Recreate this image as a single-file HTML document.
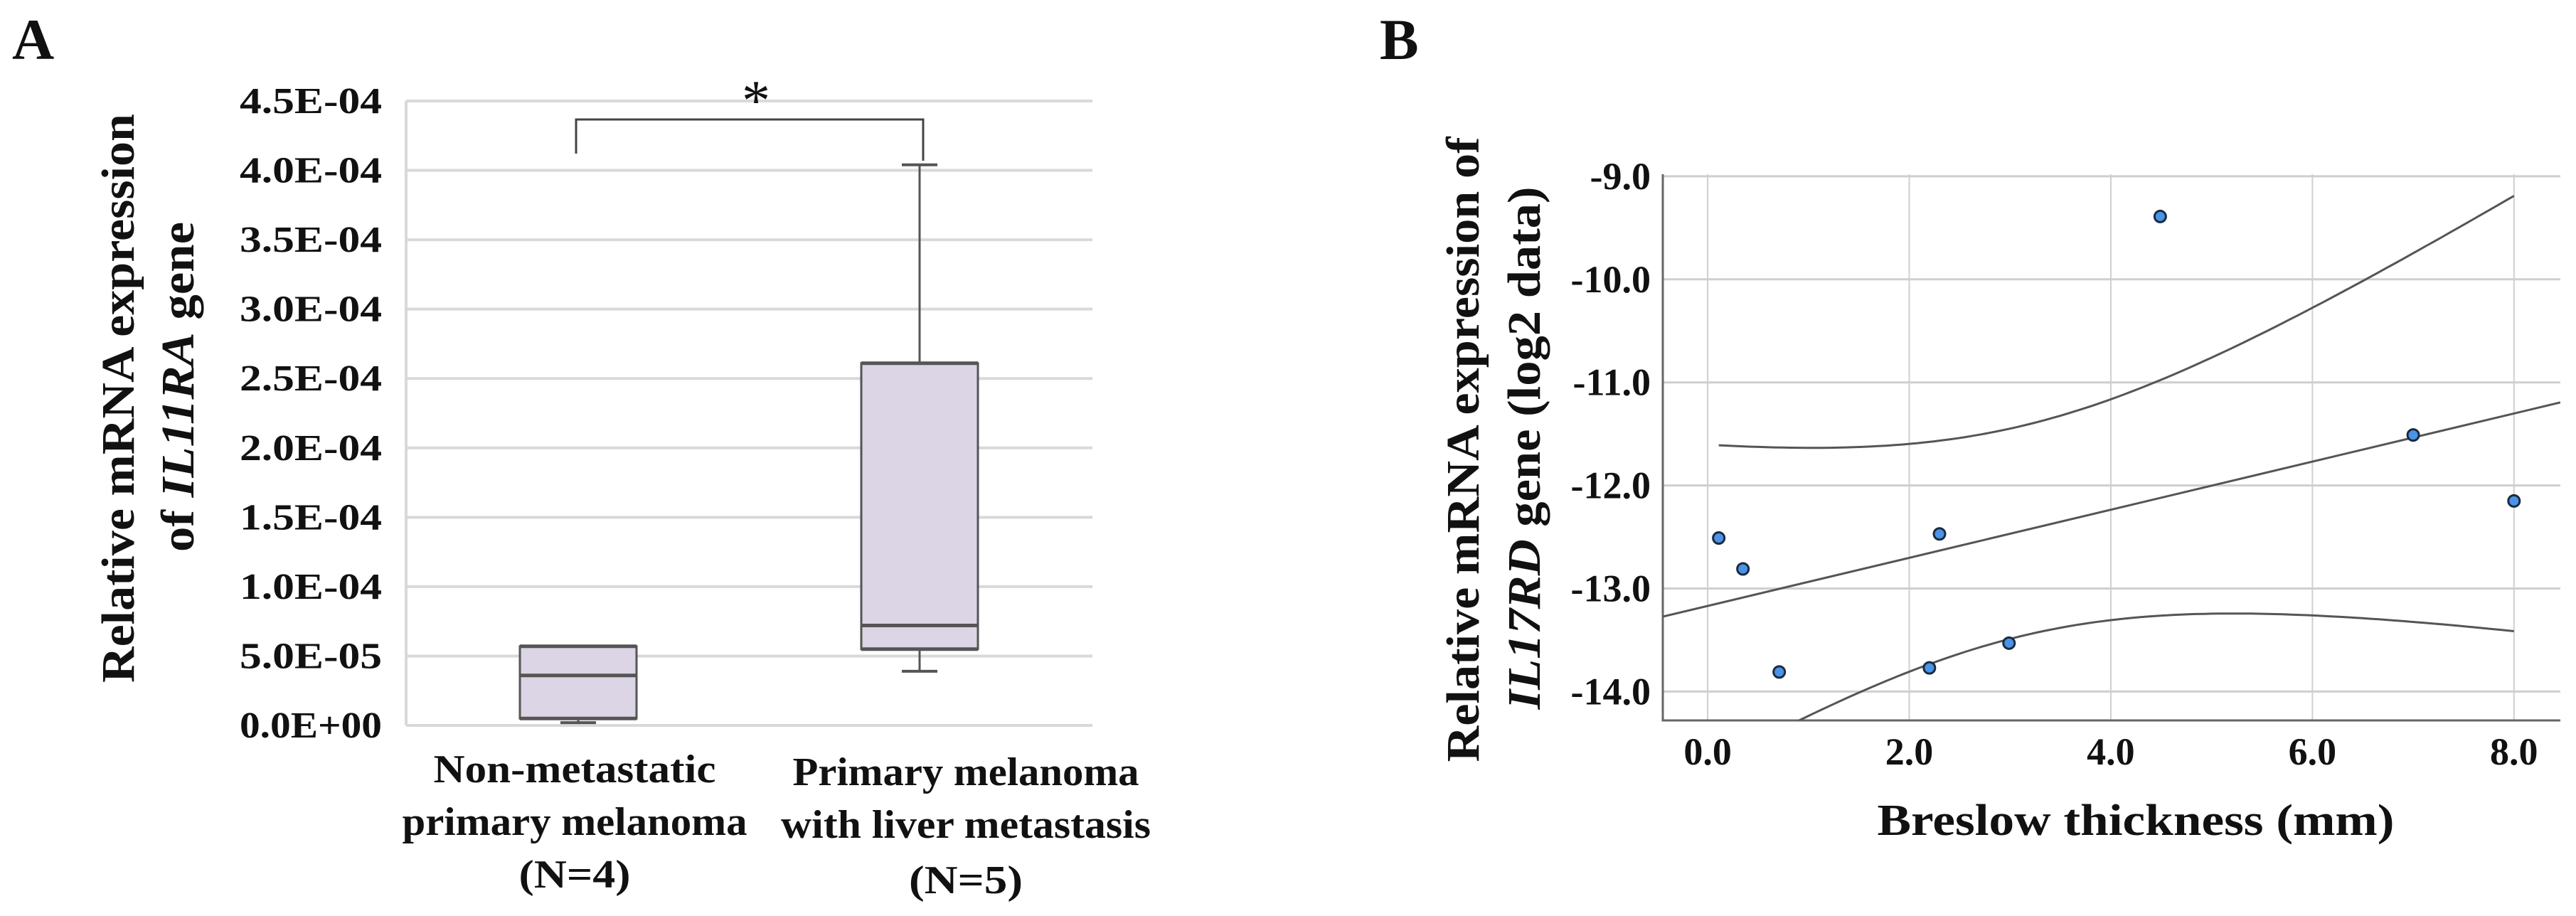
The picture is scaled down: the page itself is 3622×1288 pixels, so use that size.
<!DOCTYPE html>
<html><head><meta charset="utf-8"><style>
html,body{margin:0;padding:0;background:#fff}
svg{display:block}
text{font-family:"Liberation Serif",serif;fill:#111}
</style></head><body>
<svg id="fig" width="3622" height="1288" viewBox="0 0 3622 1288" xmlns="http://www.w3.org/2000/svg">
<g id="panelA"></g>
<g id="panelB"></g>
</svg>
<script>
// ---------- Panel A data ----------
const groupLabels = [["Non-metastatic","primary melanoma","(N=4)"],["Primary melanoma","with liver metastasis","(N=5)"]];
const boxMin = [0.2e-5, 3.9e-5];
const boxQ1 = [0.5e-5, 5.5e-5];
const boxMedian = [3.6e-5, 7.2e-5];
const boxQ3 = [5.7e-5, 2.61e-4];
const boxMax = [5.7e-5, 4.04e-4];
const yTicksA = [0, 5e-5, 1e-4, 1.5e-4, 2e-4, 2.5e-4, 3e-4, 3.5e-4, 4e-4, 4.5e-4];
const yTickLabelsA = ["0.0E+00","5.0E-05","1.0E-04","1.5E-04","2.0E-04","2.5E-04","3.0E-04","3.5E-04","4.0E-04","4.5E-04"];
// ---------- Panel B data ----------
const breslow = [0.11, 0.35, 0.71, 2.20, 2.30, 2.99, 4.49, 7.00, 8.00];
const expr = [-12.51, -12.81, -13.81, -13.77, -12.47, -13.53, -9.39, -11.51, -12.15];
const xTicksB = [0, 2, 4, 6, 8];
const xTickLabelsB = ["0.0","2.0","4.0","6.0","8.0"];
const yTicksB = [-9, -10, -11, -12, -13, -14];
const yTickLabelsB = ["-9.0","-10.0","-11.0","-12.0","-13.0","-14.0"];

const NS = "http://www.w3.org/2000/svg";
function mk(parent, tag, attrs, txt){
  const e = document.createElementNS(NS, tag);
  for (const k in attrs) e.setAttribute(k, attrs[k]);
  if (txt !== undefined) e.textContent = txt;
  parent.appendChild(e);
  return e;
}

// ================= Panel A =================
const A = document.getElementById('panelA');
const aL = 571, aR = 1536, aBot = 1020, aTop = 142, aMax = 4.5e-4;
const yA = v => aBot - (v / aMax) * (aBot - aTop);
const xA = i => [813, 1293][i];

let t = mk(A, 'text', {x: 17, y: 83, 'font-size': 82, 'font-weight': 'bold'}, 'A');



yTicksA.forEach((v, i) => {
  const g = mk(A, 'line', {x1: aL, x2: aR, y1: yA(v), y2: yA(v), stroke: '#d9d9d9', 'stroke-width': 4});
  
  
  const lb = mk(A, 'text', {x: 537, y: yA(v) + 17, 'text-anchor': 'end', 'font-size': 52, 'font-weight': 'bold', textLength: 200, lengthAdjust: 'spacingAndGlyphs'}, yTickLabelsA[i]);
  
  
});
let ax = mk(A, 'line', {x1: aL, x2: aL, y1: aTop, y2: aBot, stroke: '#d9d9d9', 'stroke-width': 4});



let tt = mk(A, 'text', {transform: 'translate(188,560) rotate(-90)', 'text-anchor': 'middle', 'font-size': 66, 'font-weight': 'bold', textLength: 800, lengthAdjust: 'spacingAndGlyphs'}, 'Relative mRNA expression');


let tt2 = mk(A, 'text', {transform: 'translate(272,544) rotate(-90)', 'text-anchor': 'middle', 'font-size': 66, 'font-weight': 'bold', textLength: 464, lengthAdjust: 'spacingAndGlyphs'});


mk(tt2, 'tspan', {}, 'of ');
mk(tt2, 'tspan', {'font-style': 'italic'}, 'IL11RA');
mk(tt2, 'tspan', {}, ' gene');

const bw = 164;
for (let i = 0; i < 2; i++) {
  const cx = xA(i);
  const g = mk(A, 'g', {});
  
  
  if (boxMax[i] > boxQ3[i]) {
    mk(g, 'line', {x1: cx, x2: cx, y1: yA(boxMax[i]), y2: yA(boxQ3[i]), stroke: '#555', 'stroke-width': 3});
    mk(g, 'line', {x1: cx - 25, x2: cx + 25, y1: yA(boxMax[i]), y2: yA(boxMax[i]), stroke: '#555', 'stroke-width': 4});
  }
  mk(g, 'line', {x1: cx, x2: cx, y1: yA(boxQ1[i]), y2: yA(boxMin[i]), stroke: '#555', 'stroke-width': 3});
  mk(g, 'line', {x1: cx - 25, x2: cx + 25, y1: yA(boxMin[i]), y2: yA(boxMin[i]), stroke: '#555', 'stroke-width': 4});
  const r = mk(g, 'rect', {x: cx - bw / 2, y: yA(boxQ3[i]), width: bw, height: yA(boxQ1[i]) - yA(boxQ3[i]), fill: '#dcd5e5', stroke: '#555', 'stroke-width': 3});
  
  
  mk(g, 'line', {x1: cx - bw / 2, x2: cx + bw / 2, y1: yA(boxQ3[i]), y2: yA(boxQ3[i]), stroke: '#555', 'stroke-width': 5});
  mk(g, 'line', {x1: cx - bw / 2, x2: cx + bw / 2, y1: yA(boxQ1[i]), y2: yA(boxQ1[i]), stroke: '#555', 'stroke-width': 5});
  const m = mk(g, 'line', {x1: cx - bw / 2, x2: cx + bw / 2, y1: yA(boxMedian[i]), y2: yA(boxMedian[i]), stroke: '#555', 'stroke-width': 5});
  
  
  const widths = [[397, 485, 157], [487, 520, 160]];
  const centers = [808, 1358];
  const bases = [[1100, 1174, 1248], [1104, 1178, 1256]];
  groupLabels[i].forEach((s, j) => {
    const l = mk(A, 'text', {x: centers[i], y: bases[i][j], 'text-anchor': 'middle', 'font-size': 56, 'font-weight': 'bold', textLength: widths[i][j], lengthAdjust: 'spacingAndGlyphs'}, s);
    
    
  });
}
let br = mk(A, 'path', {d: 'M810 216 V168 H1298 V226', fill: 'none', stroke: '#444', 'stroke-width': 3});


let st = mk(A, 'text', {x: 1063, y: 168, 'text-anchor': 'middle', 'font-size': 80}, '*');



// ================= Panel B =================
const B = document.getElementById('panelB');
const bL = 2338, bR = 3600, bTop = 245, bBot = 1013;
const xMinB = -0.445, xMaxB = 8.46, yMaxB = -8.98, yMinB = -14.28;
const xB = v => bL + (v - xMinB) / (xMaxB - xMinB) * (bR - bL);
const yB = v => bBot - (v - yMinB) / (yMaxB - yMinB) * (bBot - bTop);

t = mk(B, 'text', {x: 1940, y: 83, 'font-size': 82, 'font-weight': 'bold'}, 'B');



mk(B, 'clipPath', {id: 'clipB'});
mk(document.getElementById('clipB'), 'rect', {x: bL, y: bTop, width: bR - bL, height: bBot - bTop});

yTicksB.forEach((v, i) => {
  const g = mk(B, 'line', {x1: bL, x2: bR, y1: yB(v), y2: yB(v), stroke: '#cfcfcf', 'stroke-width': 3});
  
  
  const lb = mk(B, 'text', {x: 2321, y: yB(v) + 18, 'text-anchor': 'end', 'font-size': 54, 'font-weight': 'bold'}, yTickLabelsB[i]);
  
  
});
xTicksB.forEach((v, i) => {
  const g = mk(B, 'line', {x1: xB(v), x2: xB(v), y1: bTop, y2: bBot, stroke: '#cfcfcf', 'stroke-width': 2});
  
  
  const lb = mk(B, 'text', {x: xB(v), y: 1075, 'text-anchor': 'middle', 'font-size': 54, 'font-weight': 'bold'}, xTickLabelsB[i]);
  
  
});
let axb = mk(B, 'path', {d: `M${bL} ${bTop} V${bBot} H${bR}`, fill: 'none', stroke: '#666', 'stroke-width': 3});



const n = breslow.length;
const mx = breslow.reduce((a, b) => a + b, 0) / n;
const my = expr.reduce((a, b) => a + b, 0) / n;
let sxx = 0, sxy = 0;
for (let i = 0; i < n; i++) { sxx += (breslow[i] - mx) ** 2; sxy += (breslow[i] - mx) * (expr[i] - my); }
const slope = sxy / sxx, icpt = my - slope * mx;
let sse = 0;
for (let i = 0; i < n; i++) sse += (expr[i] - icpt - slope * breslow[i]) ** 2;
const s = Math.sqrt(sse / (n - 2)), tcrit = 2.365;
const fit = x => icpt + slope * x;
const hw = x => tcrit * s * Math.sqrt(1 / n + (x - mx) ** 2 / sxx);
const cg = mk(B, 'g', {'clip-path': 'url(#clipB)'});
let rl = mk(cg, 'line', {x1: xB(xMinB), x2: xB(xMaxB), y1: yB(fit(xMinB)), y2: yB(fit(xMaxB)), stroke: '#555', 'stroke-width': 3});


const x0 = Math.min(...breslow), x1 = Math.max(...breslow);
let up = '', lo = '';
for (let k = 0; k <= 100; k++) {
  const x = x0 + (x1 - x0) * k / 100;
  up += (k ? 'L' : 'M') + xB(x).toFixed(1) + ' ' + yB(fit(x) + hw(x)).toFixed(1);
  lo += (k ? 'L' : 'M') + xB(x).toFixed(1) + ' ' + yB(fit(x) - hw(x)).toFixed(1);
}
let cu = mk(cg, 'path', {d: up, fill: 'none', stroke: '#555', 'stroke-width': 3});


let cl = mk(cg, 'path', {d: lo, fill: 'none', stroke: '#555', 'stroke-width': 3});



for (let i = 0; i < n; i++) {
  const c = mk(B, 'circle', {cx: xB(breslow[i]), cy: yB(expr[i]), r: 8, fill: '#4a93e6', stroke: '#1a2a40', 'stroke-width': 3});
  
  
}

let tb1 = mk(B, 'text', {transform: 'translate(2079,632) rotate(-90)', 'text-anchor': 'middle', 'font-size': 66, 'font-weight': 'bold', textLength: 879, lengthAdjust: 'spacingAndGlyphs'}, 'Relative mRNA expression of');


let tb2 = mk(B, 'text', {transform: 'translate(2165,630) rotate(-90)', 'text-anchor': 'middle', 'font-size': 66, 'font-weight': 'bold', textLength: 735, lengthAdjust: 'spacingAndGlyphs'});


mk(tb2, 'tspan', {'font-style': 'italic'}, 'IL17RD');
mk(tb2, 'tspan', {}, ' gene (log2 data)');
let xt = mk(B, 'text', {x: 3003, y: 1174, 'text-anchor': 'middle', 'font-size': 62, 'font-weight': 'bold', textLength: 727, lengthAdjust: 'spacingAndGlyphs'}, 'Breslow thickness (mm)');


</script>
</body></html>
